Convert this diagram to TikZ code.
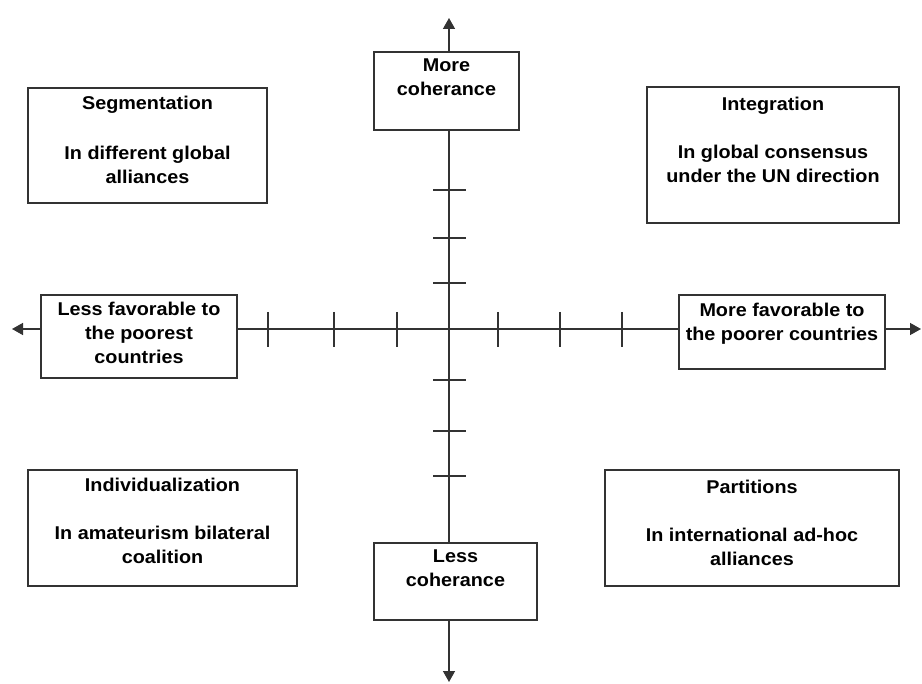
\documentclass[tikz,border=0pt]{standalone}
\usepackage{fontspec}
\setmainfont[FakeStretch=1.07]{Liberation Sans}
\usetikzlibrary{arrows.meta}
\newcommand{\strt}{\vrule height 15pt depth 0pt width 0pt}
\begin{document}
\begin{tikzpicture}[x=1pt,y=-1pt,
  axisline/.style={draw=black!80, line width=1.5pt},
  axisarrow/.style={axisline, -{Triangle[length=11pt,width=12pt]}},
  tickmark/.style={draw=black!80, line width=1.3pt},
  box/.style={draw=black!80, fill=white, line width=1.3pt, inner sep=0pt, rectangle},
  lbl/.style={inner sep=0pt, align=center, anchor=north, text=black,
    font={\fontsize{18.5}{24}\selectfont\bfseries}}]
\useasboundingbox (0,0) rectangle (922,684);
\coordinate (O) at (449,329);
\coordinate (top) at (449,18);
\coordinate (bottom) at (449,682);
\coordinate (left) at (12,329);
\coordinate (right) at (921,329);

% boxes
\node[box, minimum width=145pt, minimum height=78pt] (mc) at (446.5,91) {};
\node[box, minimum width=163pt, minimum height=77pt] (lc) at (455.5,581.5) {};
\node[box, minimum width=196pt, minimum height=83pt] (lf) at (139,336.5) {};
\node[box, minimum width=206pt, minimum height=74pt] (mf) at (782,332) {};
\node[box, minimum width=239pt, minimum height=115pt] (seg) at (147.5,145.5) {};
\node[box, minimum width=252pt, minimum height=136pt] (int) at (773,155) {};
\node[box, minimum width=269pt, minimum height=116pt] (ind) at (162.5,528) {};
\node[box, minimum width=294pt, minimum height=116pt] (par) at (752,528) {};

% axes
\draw[axisarrow] (mc.north -| O) -- (top);
\draw[axisline] (mc.south -| O) -- (lc.north -| O);
\draw[axisarrow] (lc.south -| O) -- (bottom);
\draw[axisarrow] (lf.west |- O) -- (left);
\draw[axisline] (lf.east |- O) -- (mf.west |- O);
\draw[axisarrow] (mf.east |- O) -- (right);

% ticks
\foreach \dx in {-181,-115,-52,49,111,173}
  \draw[tickmark] ([xshift=\dx pt, yshift=17pt]O) -- ([xshift=\dx pt, yshift=-18pt]O);
\foreach \dy in {139,91,46,-51,-102,-147}
  \draw[tickmark] ([xshift=-16pt, yshift=\dy pt]O) -- ([xshift=17pt, yshift=\dy pt]O);

% labels
\node[lbl] (mc-t) at ([yshift=-5pt]mc.north) {\strt More\\coherance};
\node[lbl] (lc-t) at ([yshift=-5pt]lc.north) {\strt Less\\coherance};
\node[lbl] (lf-t) at ([yshift=-6pt]lf.north) {\strt Less favorable to\\the poorest\\countries};
\node[lbl] (mf-t) at ([yshift=-7pt]mf.north) {\strt More favorable to\\the poorer countries};
\node[lbl] (seg-t) at ([yshift=-7pt]seg.north) {\strt Segmentation\\[26pt]In different global\\alliances};
\node[lbl] (int-t) at ([yshift=-9pt]int.north) {\strt Integration\\[24pt]In global consensus\\under the UN direction};
\node[lbl] (ind-t) at ([yshift=-7pt]ind.north) {\strt Individualization\\[24pt]In amateurism bilateral\\coalition};
\node[lbl] (par-t) at ([yshift=-9pt]par.north) {\strt Partitions\\[24pt]In international ad-hoc\\alliances};
\end{tikzpicture}
\end{document}
